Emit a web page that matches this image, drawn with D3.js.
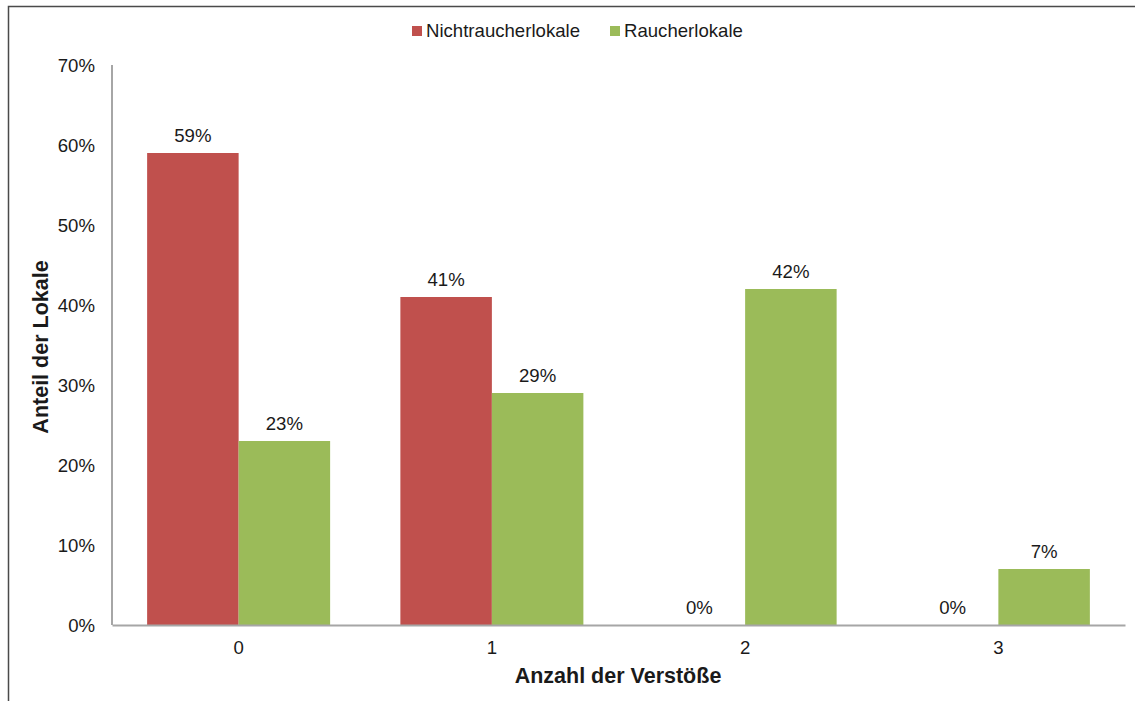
<!DOCTYPE html>
<html>
<head>
<meta charset="utf-8">
<script src="https://cdn.jsdelivr.net/npm/d3@7/dist/d3.min.js"></script>
<style>
  html, body { margin: 0; padding: 0; background: #ffffff; }
  svg text { font-family: "Liberation Sans", Arial, sans-serif; fill: #1a1a1a; }
</style>
</head>
<body>
<svg id="chart" width="1135" height="701"></svg>
<script>
const categories = ["0", "1", "2", "3"];
const seriesNames = ["Nichtraucherlokale", "Raucherlokale"];
const nichtraucher = [0.59, 0.41, 0.00, 0.00];
const raucher = [0.23, 0.29, 0.42, 0.07];
const yTicks = [0, 0.1, 0.2, 0.3, 0.4, 0.5, 0.6, 0.7];
const colors = ["#C0504D", "#9BBB59"];
const xTitle = "Anzahl der Verstöße";
const yTitle = "Anteil der Lokale";

const seriesValues = [nichtraucher, raucher];
const svg = d3.select("#chart");
const fs = 18.6;

// outer frame
svg.append("rect")
  .attr("x", 8.5).attr("y", 6.5)
  .attr("width", 1160).attr("height", 720)
  .attr("fill", "none").attr("stroke", "#4a4a4a").attr("stroke-width", 1.5);

const x0 = d3.scaleBand().domain(categories).range([112, 1125])
  .paddingInner(0.2774).paddingOuter(0.1387);
const x1 = d3.scaleBand().domain(seriesNames).range([0, x0.bandwidth()]);
const y = d3.scaleLinear().domain([0, 0.7]).range([625, 65]);
const fmt = d3.format(".0%");

// y tick labels
const yAxis = d3.axisLeft(y).tickValues(yTicks).tickFormat(fmt).tickSize(0).tickPadding(0);
const gy = svg.append("g").attr("transform", "translate(95,0)").call(yAxis);
gy.select(".domain").remove();
gy.selectAll("text").attr("font-size", fs).attr("font-family", "Liberation Sans, Arial, sans-serif")
  .attr("fill", "#1a1a1a").attr("dy", "0.34em");

// bars
const groups = svg.append("g").selectAll("g").data(categories).join("g")
  .attr("transform", d => `translate(${x0(d)},0)`);
groups.selectAll("rect")
  .data((c, i) => seriesNames.map((s, k) => ({ s, k, v: seriesValues[k][i] })))
  .join("rect")
  .attr("x", d => x1(d.s))
  .attr("y", d => y(d.v))
  .attr("width", x1.bandwidth())
  .attr("height", d => y(0) - y(d.v))
  .attr("fill", d => colors[d.k]);

// value labels
groups.selectAll("text.val")
  .data((c, i) => seriesNames.map((s, k) => ({ s, k, v: seriesValues[k][i] })))
  .join("text").attr("class", "val")
  .attr("x", d => x1(d.s) + x1.bandwidth() / 2)
  .attr("y", d => y(d.v) - 11)
  .attr("text-anchor", "middle")
  .attr("font-size", fs)
  .text(d => fmt(d.v));

// axes lines
svg.append("line").attr("x1", 112).attr("x2", 112).attr("y1", 65).attr("y2", 625)
  .attr("stroke", "#a6a6a6").attr("stroke-width", 2);
const xAxis = d3.axisBottom(x0).tickSize(0).tickPadding(0);
const gx = svg.append("g").attr("transform", "translate(0,625)").call(xAxis);
gx.select(".domain").attr("stroke", "#a6a6a6").attr("stroke-width", 2);
gx.selectAll("text").attr("font-size", fs).attr("font-family", "Liberation Sans, Arial, sans-serif")
  .attr("fill", "#1a1a1a").attr("dy", 0).attr("y", 29);

// axis titles
svg.append("text").attr("x", 618).attr("y", 683).attr("text-anchor", "middle")
  .attr("font-size", 21.5).attr("font-weight", "bold").text(xTitle);
svg.append("text").attr("transform", "translate(48,347) rotate(-90)")
  .attr("text-anchor", "middle").attr("font-size", 21.5).attr("font-weight", "bold").text(yTitle);

// legend
const legendX = [412, 610];
const leg = svg.append("g").selectAll("g").data(seriesNames).join("g")
  .attr("transform", (d, i) => `translate(${legendX[i]},26)`);
leg.append("rect").attr("width", 10).attr("height", 10).attr("fill", (d, i) => colors[i]);
leg.append("text").attr("x", 14).attr("y", 10.5).attr("font-size", fs).text(d => d);
</script>
</body>
</html>
